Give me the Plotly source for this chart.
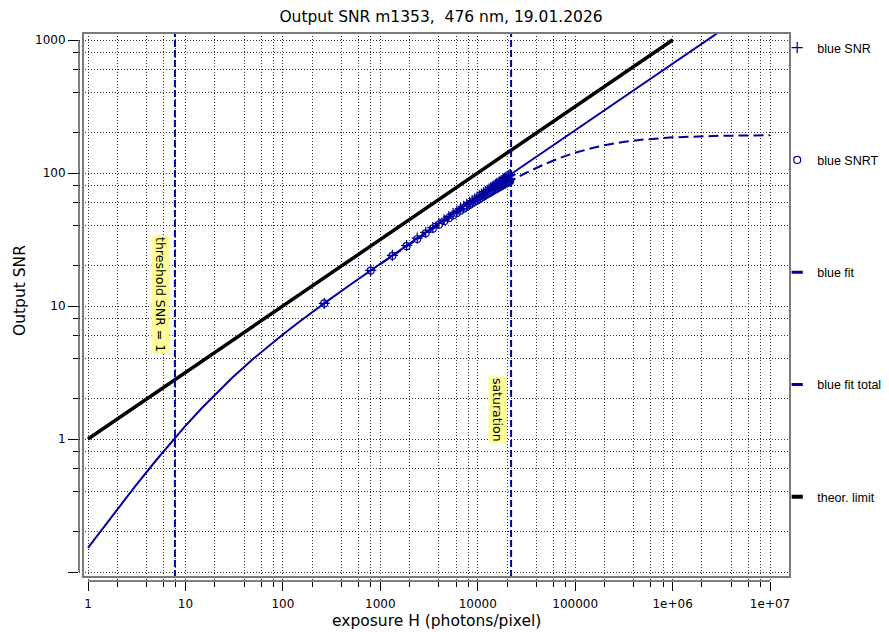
import math
import plotly.graph_objects as go

# fitted curve (photons/pixel -> SNR)
fit_h = [1, 2, 3, 5, 7, 10, 15, 20, 30, 50, 70, 100, 150, 200, 300, 500, 700,
         1000, 2000, 5000, 10000, 20000, 50000, 100000, 1000000, 10000000]
fit_snr = [0.152, 0.297, 0.435, 0.692, 0.929, 1.255, 1.733, 2.153, 2.874, 4.023,
           4.951, 6.108, 7.677, 8.986, 11.16, 14.57, 17.33, 20.79, 29.53, 46.82,
           66.27, 93.77, 148.3, 209.7, 663.3, 2098]

# fit incl. saturation term
total_h = [1000, 2000, 5000, 10000, 20000, 30000, 50000, 70000, 100000, 150000,
           200000, 300000, 500000, 1000000, 2000000, 3000000, 10000000]
total_snr = [20.67, 29.19, 45.50, 62.7, 84.4, 98.7, 117.6, 129.9, 142.0, 154.3,
             161.8, 170.5, 178.5, 185.4, 189.1, 190.4, 192.2]

# theoretical limit
theor_h = [1, 1000000]
theor_snr = [1, 1000]

# measured points
meas_h = [266, 798, 1330, 1862, 2394, 2926, 3458, 3990, 4522, 5054, 5586, 6118,
          6650, 7182, 7714, 8246, 8778, 9310, 9842, 10374, 10906, 11438, 11970,
          12502, 13034, 13566, 14098, 14630, 15162, 15694, 16226, 16758, 17290,
          17822, 18354, 18886, 19418, 19950, 20482, 21014, 21546]
meas_snr = [10.47, 18.53, 24.03, 28.49, 32.33, 35.77, 38.90, 41.81, 44.52, 47.07,
            49.49, 51.81, 54.02, 56.15, 58.19, 60.17, 62.08, 63.94, 65.74, 67.50,
            69.21, 70.88, 72.51, 74.11, 75.67, 77.20, 78.70, 80.18, 81.63, 83.05,
            84.45, 85.82, 87.17, 88.50, 89.82, 91.11, 92.39, 93.65, 94.89, 96.12,
            97.33]
meas_snrt = [10.45, 18.45, 23.85, 28.18, 31.89, 35.17, 38.14, 40.86, 43.38, 45.73,
             47.95, 50.04, 52.02, 53.91, 55.72, 57.44, 59.10, 60.70, 62.24, 63.72,
             65.15, 66.54, 67.89, 69.19, 70.46, 71.69, 72.88, 74.05, 75.19, 76.29,
             77.37, 78.42, 79.45, 80.45, 81.44, 82.40, 83.34, 84.26, 85.16, 86.04,
             86.90]

threshold_h = 7.8
saturation_h = 22000

x_ticks = [1, 10, 100, 1000, 10000, 100000, 1000000, 10000000]
x_labels = ["1", "10", "100", "1000", "10000", "100000", "1e+06", "1e+07"]
y_ticks = [0.1, 1, 10, 100, 1000]
y_labels = ["", "1", "10", "100", "1000"]

BLUE = "#00009f"
FONT = "DejaVu Sans"

fig = go.Figure()

fig.add_trace(go.Scatter(x=theor_h, y=theor_snr, mode="lines", showlegend=False,
                         line=dict(color="black", width=3.5)))
fig.add_trace(go.Scatter(x=fit_h, y=fit_snr, mode="lines", showlegend=False,
                         line=dict(color=BLUE, width=2)))
fig.add_trace(go.Scatter(x=total_h, y=total_snr, mode="lines", showlegend=False,
                         line=dict(color=BLUE, width=2, dash="10px,5px")))
fig.add_trace(go.Scatter(x=meas_h, y=meas_snrt, mode="markers", name="blue SNRT",
                         legendgroup="b", legendrank=2,
                         marker=dict(symbol="circle-open", size=7, color=BLUE,
                                     line=dict(width=1.2, color=BLUE))))
fig.add_trace(go.Scatter(x=meas_h, y=meas_snr, mode="markers", name="blue SNR",
                         legendgroup="a", legendrank=1,
                         marker=dict(symbol="cross-thin", size=8, color=BLUE,
                                     line=dict(width=1.2, color=BLUE))))

# legend entries with short dash symbols
for nm, col, w, grp, rk in [("blue fit", BLUE, 3, "c", 3),
                            ("blue fit total", BLUE, 3, "d", 4),
                            ("theor. limit", "black", 4, "e", 5)]:
    fig.add_trace(go.Scatter(x=[None], y=[None], mode="markers", name=nm,
                             legendgroup=grp, legendrank=rk,
                             marker=dict(symbol="line-ew-open", size=8, color=col,
                                         line=dict(width=w, color=col))))

# vertical markers
for hv in [threshold_h, saturation_h]:
    fig.add_shape(type="line", xref="x", yref="y domain", x0=hv, x1=hv,
                  y0=0.0073, y1=1, line=dict(color=BLUE, width=2, dash="7px,3px"))

# frame and detached axis lines
fig.add_shape(type="rect", xref="x domain", yref="y domain", x0=0.0056, x1=1,
              y0=0.0073, y1=1, line=dict(color="#7a7a7a", width=2))
fig.add_shape(type="line", xref="x", yref="y domain", x0=x_ticks[0], x1=x_ticks[-1],
              y0=0, y1=0, line=dict(color="black", width=1))
fig.add_shape(type="line", xref="x domain", yref="y", x0=0, x1=0,
              y0=y_ticks[0], y1=y_ticks[-1], line=dict(color="black", width=1))

fig.add_annotation(text="threshold SNR = 1", textangle=90, x=math.log10(threshold_h),
                   xref="x", yref="y domain", y=0.522, xshift=-15, showarrow=False,
                   bgcolor="#ffff96", borderpad=1, font=dict(size=12.5))
fig.add_annotation(text="saturation", textangle=90, x=math.log10(saturation_h),
                   xref="x", yref="y domain", y=0.25, xshift=-13, showarrow=False,
                   bgcolor="#ffff96", borderpad=1, font=dict(size=12.5))

fig.add_annotation(text="exposure H (photons/pixel)", xref="paper", yref="paper",
                   x=0.503, y=-0.073, xanchor="center", yanchor="middle",
                   showarrow=False, font=dict(size=15.5))
fig.add_annotation(text="Output SNR", xref="paper", yref="paper", textangle=-90,
                   x=-0.083, y=0.531, xanchor="center", yanchor="middle",
                   showarrow=False, font=dict(size=15.5))

minor_x = [m * 10 ** e for e in range(0, 7) for m in (2, 4, 6, 8)]
minor_y = [m * 10 ** e for e in range(-1, 3) for m in (2, 4, 6, 8)]

grid = dict(showgrid=True, gridcolor="#333333", griddash="1px,2px", gridwidth=1)

fig.update_xaxes(type="log", range=[-0.0924, 7.205], tickvals=x_ticks, ticktext=x_labels,
                 ticks="outside", ticklen=9, tickcolor="black", showline=False,
                 zeroline=False, tickfont=dict(size=12), ticklabelstandoff=3,
                 minor=dict(tickvals=minor_x, ticks="outside", ticklen=5,
                            tickcolor="black", **grid),
                 **grid)
fig.update_yaxes(type="log", range=[-1.0677, 3.0526], tickvals=y_ticks, ticktext=y_labels,
                 ticks="outside", ticklen=10, tickcolor="black", showline=False,
                 zeroline=False, tickfont=dict(size=12),
                 minor=dict(tickvals=minor_y, ticks="outside", ticklen=5,
                            tickcolor="black", **grid),
                 **grid)

# page body adds an 8px offset, so the figure is 8px smaller than the window
fig.update_layout(
    width=881, height=624,
    margin=dict(l=71, r=99, t=25, b=51, autoexpand=False),
    plot_bgcolor="white", paper_bgcolor="white",
    font=dict(family=FONT, size=12, color="black"),
    title=dict(text="Output SNR m1353,  476 nm, 19.01.2026", x=0.4915, y=0.9856,
               xref="container", yref="container", xanchor="center", yanchor="middle",
               font=dict(size=15.5)),
    legend=dict(x=0.982, y=1, xanchor="left", yanchor="top", bgcolor="rgba(0,0,0,0)",
                tracegroupgap=93, traceorder="grouped", maxheight=600,
                font=dict(family="Liberation Sans", size=12.5)),
)

fig.write_html("out.html")
